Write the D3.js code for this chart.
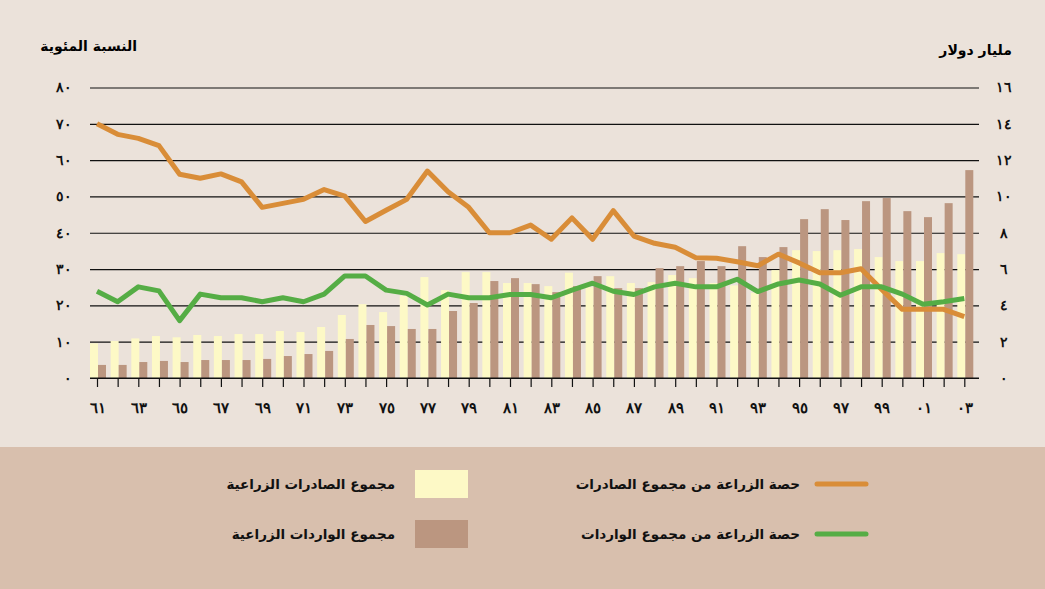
<!DOCTYPE html>
<html lang="ar">
  <head>
    <meta charset="UTF-8" />
    <title>الصادرات والواردات الزراعية</title>
    <script src="https://d3js.org/d3.v7.min.js"></script>
    <style>
      html,
      body {
        margin: 0;
        padding: 0;
        background: #ebe2da;
      }
      svg {
        display: block;
        font-family: "DejaVu Sans", sans-serif;
      }
      .axis text {
        font-size: 14px;
        font-weight: bold;
        fill: #111;
      }
      .axis .domain {
        display: none;
      }
      .legend text {
        font-size: 13.5px;
        font-weight: bold;
        fill: #111;
      }
    </style>
  </head>
  <body>
    <script>
      // data
      const years = [
        1961, 1962, 1963, 1964, 1965, 1966, 1967, 1968, 1969, 1970, 1971,
        1972, 1973, 1974, 1975, 1976, 1977, 1978, 1979, 1980, 1981, 1982,
        1983, 1984, 1985, 1986, 1987, 1988, 1989, 1990, 1991, 1992, 1993,
        1994, 1995, 1996, 1997, 1998, 1999, 2000, 2001, 2002, 2003,
      ];
      // share of agriculture in total exports (%)
      const exportShare = [
        70, 67.1, 66, 64, 56.1, 55, 56.2, 54, 47, 48.1, 49.2, 51.9, 50.1,
        43.1, 46.2, 49.2, 57, 51.3, 47, 40, 40, 42.1, 38.2, 44.1, 38.2, 46.1,
        39.1, 37.1, 36, 33.1, 33, 32, 30.9, 34.1, 31.7, 29, 29, 30.1, 24.4,
        18.9, 18.9, 18.9, 16.9,
      ];
      // share of agriculture in total imports (%)
      const importShare = [
        23.9, 21, 25.1, 24, 15.8, 23.1, 22.1, 22.1, 21, 22.1, 21, 23.1, 28.1,
        28.1, 24.2, 23.3, 20.1, 23.1, 22.1, 22.1, 23, 23, 22.1, 24.2, 26.1,
        23.9, 23, 25.1, 26.1, 25.1, 25.1, 27.2, 23.8, 25.9, 27, 25.9, 22.8,
        25.1, 25.1, 23.1, 20.3, 21, 21.9,
      ];
      // agricultural exports (billion $)
      const exportsBn = [
        1.91, 2.04, 2.18, 2.31, 2.24, 2.37, 2.31, 2.42, 2.42, 2.59, 2.53,
        2.81, 3.47, 4.07, 3.63, 4.53, 5.56, 4.84, 5.83, 5.83, 5.23, 5.23,
        5.06, 5.8, 5.0, 5.61, 5.23, 5.28, 5.67, 5.5, 5.23, 5.1, 4.7, 5.94,
        7.04, 6.99, 7.04, 7.1, 6.66, 6.44, 6.44, 6.88, 6.82,
      ];
      // agricultural imports (billion $)
      const importsBn = [
        0.72, 0.72, 0.88, 0.94, 0.88, 0.99, 0.99, 0.99, 1.05, 1.21, 1.32,
        1.49, 2.15, 2.92, 2.86, 2.7, 2.7, 3.69, 4.13, 5.34, 5.5, 5.17, 4.73,
        5.06, 5.61, 4.95, 4.95, 6.05, 6.16, 6.44, 6.16, 7.26, 6.66, 7.21,
        8.75, 9.3, 8.7, 9.74, 9.91, 9.19, 8.86, 9.63, 11.45,
      ];
      const pctTicks = [0, 10, 20, 30, 40, 50, 60, 70, 80];
      const bnTicks = [0, 2, 4, 6, 8, 10, 12, 14, 16];

      const leftTitle = "النسبة المئوية";
      const rightTitle = "مليار دولار";
      const legendItems = [
        { label: "حصة الزراعة من مجموع الصادرات", color: "#d98d38", type: "line" },
        { label: "حصة الزراعة من مجموع الواردات", color: "#55ad45", type: "line" },
        { label: "مجموع الصادرات الزراعية", color: "#fdf9c6", type: "box" },
        { label: "مجموع الواردات الزراعية", color: "#bb9680", type: "box" },
      ];

      const W = 1045,
        H = 589;
      const plotL = 90,
        plotR = 979,
        plotT = 87.5,
        plotB = 378;

      // convert western digits to arabic-indic
      const arDigits = (s) =>
        String(s).replace(/[0-9]/g, (d) => "٠١٢٣٤٥٦٧٨٩"[+d]);

      const svg = d3
        .select("body")
        .append("svg")
        .attr("width", W)
        .attr("height", H);

      svg.append("rect").attr("width", W).attr("height", H).attr("fill", "#ebe2da");
      svg
        .append("rect")
        .attr("y", 447)
        .attr("width", W)
        .attr("height", H - 447)
        .attr("fill", "#d8bfad");

      const x = d3.scalePoint().domain(years).range([97, 964.3]);
      const sub = d3.scaleBand().domain(["exp", "imp"]).range([-7, 9]);
      const yPct = d3.scaleLinear().domain([0, 80]).range([plotB, plotT]);
      const yBn = d3.scaleLinear().domain([0, 16]).range([plotB, plotT]);

      // gridlines + left labels
      svg
        .append("g")
        .attr("class", "axis")
        .attr("transform", `translate(${plotL},0)`)
        .call(
          d3
            .axisLeft(yPct)
            .tickValues(pctTicks)
            .tickSize(-(plotR - plotL))
            .tickPadding(18)
            .tickFormat(arDigits)
        )
        .call((g) => g.selectAll("line").attr("stroke", "#111").attr("stroke-width", 1.2));

      // right labels
      svg
        .append("g")
        .attr("class", "axis")
        .attr("transform", `translate(${plotR},0)`)
        .call(d3.axisRight(yBn).tickValues(bnTicks).tickSize(0).tickFormat(arDigits))
        .call((g) => g.selectAll("text").attr("x", 25).attr("text-anchor", "middle"));

      // bars
      const rows = years.map((yr, i) => ({
        year: yr,
        exp: exportsBn[i],
        imp: importsBn[i],
      }));
      const barColors = { exp: "#fdf9c6", imp: "#bb9680" };
      svg
        .append("g")
        .selectAll("g")
        .data(rows)
        .join("g")
        .attr("transform", (d) => `translate(${x(d.year)},0)`)
        .selectAll("rect")
        .data((d) => ["exp", "imp"].map((k) => ({ key: k, value: d[k] })))
        .join("rect")
        .attr("x", (d) => sub(d.key))
        .attr("width", sub.bandwidth())
        .attr("y", (d) => yBn(d.value))
        .attr("height", (d) => plotB - yBn(d.value))
        .attr("fill", (d) => barColors[d.key]);

      // bottom axis
      svg
        .append("g")
        .attr("class", "axis")
        .attr("transform", `translate(0,${plotB})`)
        .call(
          d3
            .axisBottom(x)
            .tickSize(9)
            .tickPadding(15)
            .tickFormat((d) => (d % 2 === 1 ? arDigits(String(d).slice(2)) : ""))
        )
        .call((g) => g.selectAll("line").attr("stroke", "#111").attr("stroke-width", 1.2))
        .call((g) => g.selectAll("text").style("font-size", "15px"));
      svg
        .append("line")
        .attr("x1", plotL)
        .attr("x2", plotR)
        .attr("y1", plotB)
        .attr("y2", plotB)
        .attr("stroke", "#111")
        .attr("stroke-width", 1.2);

      // lines
      const line = d3
        .line()
        .x((d, i) => x(years[i]))
        .y((d) => yPct(d));
      svg
        .append("path")
        .datum(exportShare)
        .attr("d", line)
        .attr("fill", "none")
        .attr("stroke", "#d98d38")
        .attr("stroke-width", 5)
        .attr("stroke-linejoin", "round");
      svg
        .append("path")
        .datum(importShare)
        .attr("d", line)
        .attr("fill", "none")
        .attr("stroke", "#55ad45")
        .attr("stroke-width", 5)
        .attr("stroke-linejoin", "round");

      // axis titles
      svg
        .append("text")
        .attr("x", 137)
        .attr("y", 51)
        .attr("text-anchor", "end")
        .style("font-size", "14px")
        .style("font-weight", "bold")
        .text(leftTitle);
      svg
        .append("text")
        .attr("x", 1012)
        .attr("y", 55)
        .attr("text-anchor", "end")
        .style("font-size", "14px")
        .style("font-weight", "bold")
        .text(rightTitle);

      // legend
      const legendPos = [
        { sx: 815, ty: 484, tx: 800 },
        { sx: 815, ty: 534, tx: 800 },
        { sx: 415, ty: 484, tx: 395 },
        { sx: 415, ty: 534, tx: 395 },
      ];
      const lg = svg.append("g").attr("class", "legend");
      legendItems.forEach((item, i) => {
        const p = legendPos[i];
        if (item.type === "line") {
          lg.append("line")
            .attr("x1", p.sx + 2)
            .attr("x2", p.sx + 51)
            .attr("y1", p.ty)
            .attr("y2", p.ty)
            .attr("stroke", item.color)
            .attr("stroke-width", 5)
            .attr("stroke-linecap", "round");
        } else {
          lg.append("rect")
            .attr("x", p.sx)
            .attr("y", p.ty - 14)
            .attr("width", 53)
            .attr("height", 28)
            .attr("fill", item.color);
        }
        lg.append("text")
          .attr("x", p.tx)
          .attr("y", p.ty)
          .attr("dy", "0.35em")
          .attr("text-anchor", "end")
          .text(item.label);
      });
    </script>
  </body>
</html>
